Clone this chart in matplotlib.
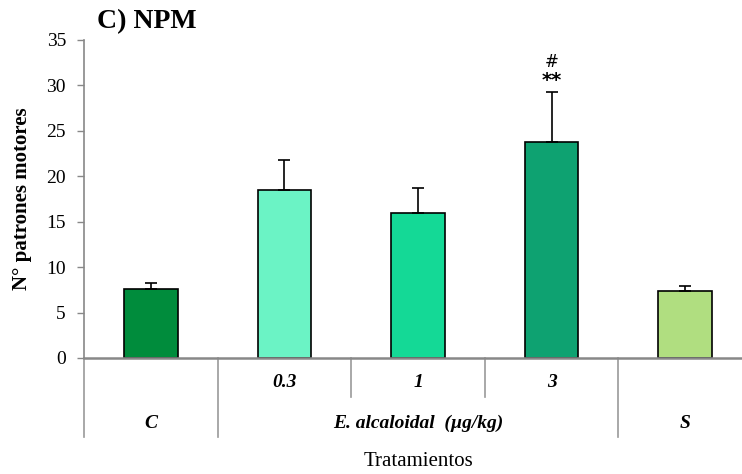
import matplotlib.pyplot as plt
import matplotlib.transforms as mtransforms

plt.rcParams['font.family'] = ['Liberation Serif', 'DejaVu Serif']

# NPM per treatment group
grupos = ['C', '0.3', '1', '3', 'S']
medias = [7.6, 18.5, 16.0, 23.8, 7.4]
errores = [0.7, 3.3, 2.7, 5.5, 0.55]
colores = ['#008c3c', '#6bf3c5', '#14d996', '#0ea271', '#b0de80']

dosis = ['0.3', '1', '3']
nivel2 = ['C', 'E. alcaloidal  (µg/kg)', 'S']
nivel2_pos = [0, 2, 4]

fig = plt.figure(figsize=(7.42, 4.74), dpi=100)
ax = fig.add_axes([84 / 742, 116 / 474, 668 / 742, 318 / 474])

x = list(range(len(grupos)))
ax.bar(x, medias, width=0.4, color=colores, edgecolor='black', linewidth=1.2,
       yerr=[[0] * len(errores), errores],
       error_kw=dict(ecolor='black', elinewidth=1.2, capsize=4, capthick=1.2),
       zorder=3)

ax.set_xlim(-0.5, 4.5)
ax.set_ylim(0, 35)
ax.set_yticks(range(0, 36, 5))
ax.tick_params(axis='y', direction='out', length=5, color='#888888',
               labelsize=14, width=1, pad=8)
ax.set_xticks([])

for s in ['top', 'right']:
    ax.spines[s].set_visible(False)
ax.spines['left'].set_color('#888888')
ax.spines['bottom'].set_color('#888888')
ax.spines['left'].set_linewidth(1.2)
ax.spines['bottom'].set_linewidth(1.8)
ax.spines['bottom'].set_zorder(4)

ax.set_ylabel('N° patrones motores', fontsize=15, fontweight='bold')
ax.yaxis.set_label_coords(-52 / 668, (358 - 199) / 318)

# significance marks over the 3 µg/kg bar
ax.text(3, medias[3] + errores[3] + 0.2, '**', ha='center', va='bottom',
        fontsize=14, fontweight='bold', family='DejaVu Sans')
ax.text(3, medias[3] + errores[3] + 2.3, '#', ha='center', va='bottom',
        fontsize=12, family='DejaVu Sans')

# two-level category axis
trans = mtransforms.blended_transform_factory(ax.transData, ax.transAxes)
for xd in [-0.5, 0.5, 3.5]:
    ax.plot([xd, xd], [0, -0.248], transform=trans, color='#999999',
            lw=1.2, clip_on=False)
for xd in [1.5, 2.5]:
    ax.plot([xd, xd], [0, -0.123], transform=trans, color='#999999',
            lw=1.2, clip_on=False)

for i, d in enumerate(dosis):
    ax.text(i + 1, -0.078, d, transform=trans, ha='center', va='center',
            fontsize=14, fontweight='bold', style='italic')
for p, t in zip(nivel2_pos, nivel2):
    ax.text(p, -0.206, t, transform=trans, ha='center', va='center',
            fontsize=14, fontweight='bold', style='italic')

ax.text(2, -0.326, 'Tratamientos', transform=trans, ha='center', va='center',
        fontsize=15)

fig.text(97 / 742, 1 - 22 / 474, 'C) NPM', ha='left', va='center',
         fontsize=20, fontweight='bold')

fig.savefig('out.png', dpi=100)
